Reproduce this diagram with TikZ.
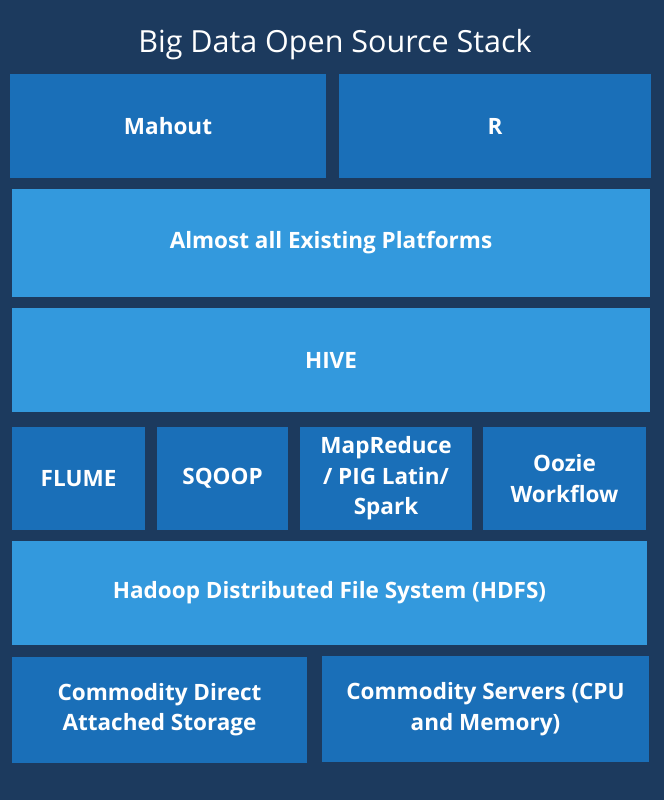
\documentclass[tikz,border=0pt]{standalone}
\usepackage{fontspec}
\setmainfont{Open Sans}
\definecolor{stackbg}{HTML}{1C3A5E}
\definecolor{darkblk}{HTML}{1A6FB8}
\definecolor{lightblk}{HTML}{3399DD}
\begin{document}
\begin{tikzpicture}[x=1pt,y=-1pt,
    blk/.style={inner sep=0pt,align=center,text=white,font=\fontsize{22.5}{30.5}\selectfont\bfseries},
    darkbox/.style={blk,fill=darkblk},
    lightbox/.style={blk,fill=lightblk}]
  \fill[stackbg] (0,0) rectangle (664,800);
  \useasboundingbox (0,0) rectangle (664,800);
  \node (title) [text=white,font=\fontsize{30.5}{34}\selectfont] at (335,45) {Big Data Open Source Stack};
  % top row
  \node (mahout) [darkbox,minimum width=316pt,minimum height=104pt] at (168,126) {Mahout};
  \node (r) [darkbox,minimum width=312pt,minimum height=104pt] at (495,126) {R};
  \node (platforms) [lightbox,minimum width=638pt,minimum height=108pt] at (331,243) {Almost all Existing Platforms};
  \node (hive) [lightbox,minimum width=638pt,minimum height=104pt] at (331,360) {HIVE};
  % tools row
  \node (flume) [darkbox,minimum width=133pt,minimum height=103pt] at (78.5,478.5) {FLUME};
  \node (sqoop) [darkbox,minimum width=131pt,minimum height=103pt] at (222.5,478.5) {SQOOP};
  \node (mapred) [darkbox,minimum width=172pt,minimum height=103pt] at (386,478.5) {MapReduce\\/ PIG Latin/\\Spark};
  \node (oozie) [darkbox,minimum width=163pt,minimum height=103pt] at (564.5,478.5) {Oozie\\Workflow};
  \node (hdfs) [lightbox,minimum width=635pt,minimum height=104pt] at (329.5,593) {Hadoop Distributed File System (HDFS)};
  % hardware row
  \node (storage) [darkbox,minimum width=295pt,minimum height=106pt] at (159.5,709.5) {Commodity Direct\\Attached Storage};
  \node (servers) [darkbox,minimum width=327pt,minimum height=106pt] at (485.5,709) {Commodity Servers (CPU\\and Memory)};
\end{tikzpicture}
\end{document}
